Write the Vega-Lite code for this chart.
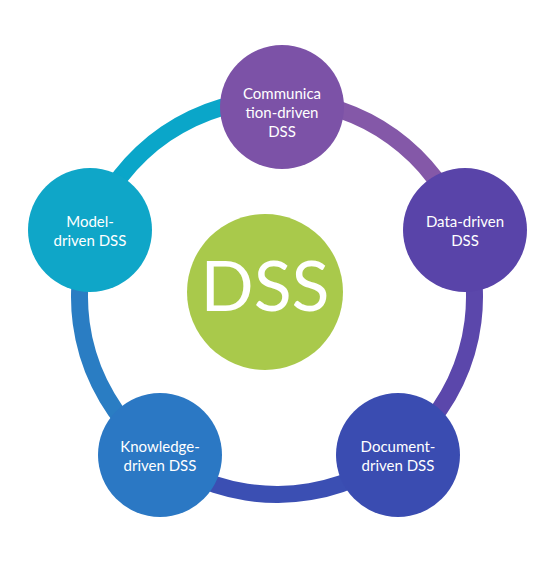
{
  "$schema": "https://vega.github.io/schema/vega-lite/v6.json",
  "width": 554,
  "height": 584,
  "padding": 0,
  "autosize": "none",
  "background": "white",
  "config": {"view": {"stroke": null}},
  "layer": [
    {
      "data": {"values": [
        {"cx": 277, "cy": 297, "a0": 0.03, "a1": 1.22, "c": "#8458a8"},
        {"cx": 277, "cy": 297, "a0": 1.22, "a1": 2.49, "c": "#5b47ab"},
        {"cx": 277, "cy": 297, "a0": 2.49, "a1": 3.78, "c": "#3b4fb3"},
        {"cx": 277, "cy": 297, "a0": 3.78, "a1": 5.06, "c": "#2a7dc3"},
        {"cx": 277, "cy": 297, "a0": 5.06, "a1": 6.31, "c": "#0aa6c9"}
      ]},
      "mark": {"type": "arc", "radius": 206, "radius2": 189},
      "encoding": {
        "x": {"field": "cx", "type": "quantitative", "scale": {"domain": [0, 554]}, "axis": null},
        "y": {"field": "cy", "type": "quantitative", "scale": {"domain": [584, 0]}, "axis": null},
        "theta": {"field": "a0", "type": "quantitative", "scale": null},
        "theta2": {"field": "a1"},
        "color": {"field": "c", "type": "nominal", "scale": null}
      }
    },
    {
      "data": {"values": [
        {"cx": 265, "cy": 292, "r": 156, "c": "#a9c94b"},
        {"cx": 282, "cy": 107, "r": 124, "c": "#7c52a7"},
        {"cx": 465, "cy": 230, "r": 124, "c": "#5944a9"},
        {"cx": 398, "cy": 455, "r": 124, "c": "#3a4cb1"},
        {"cx": 160, "cy": 455, "r": 124, "c": "#2b78c4"},
        {"cx": 90, "cy": 230, "r": 124, "c": "#0fa6c8"}
      ]},
      "mark": {"type": "point", "shape": "circle", "filled": true, "opacity": 1},
      "encoding": {
        "x": {"field": "cx", "type": "quantitative", "scale": {"domain": [0, 554]}, "axis": null},
        "y": {"field": "cy", "type": "quantitative", "scale": {"domain": [584, 0]}, "axis": null},
        "size": {"field": "r", "type": "quantitative", "scale": {"type": "pow", "exponent": 2, "domain": [0, 1], "range": [0, 1], "clamp": false}, "legend": null},
        "color": {"field": "c", "type": "nominal", "scale": null}
      }
    },
    {
      "data": {"values": [
        {"cx": 282, "cy": 94, "t": "Communica\ntion-driven\nDSS"},
        {"cx": 465, "cy": 222, "t": "Data-driven\nDSS"},
        {"cx": 398, "cy": 447, "t": "Document-\ndriven  DSS"},
        {"cx": 160, "cy": 447, "t": "Knowledge-\ndriven DSS"},
        {"cx": 90, "cy": 222, "t": "Model-\ndriven  DSS"}
      ]},
      "mark": {"type": "text", "font": "Lato", "fontSize": 15, "color": "white", "lineBreak": "\n", "lineHeight": 19, "baseline": "middle"},
      "encoding": {
        "x": {"field": "cx", "type": "quantitative", "scale": {"domain": [0, 554]}, "axis": null},
        "y": {"field": "cy", "type": "quantitative", "scale": {"domain": [584, 0]}, "axis": null},
        "text": {"field": "t"}
      }
    },
    {
      "data": {"values": [{"cx": 265, "cy": 290, "t": "DSS"}]},
      "mark": {"type": "text", "font": "Lato", "fontSize": 70, "color": "white", "baseline": "middle"},
      "encoding": {
        "x": {"field": "cx", "type": "quantitative", "scale": {"domain": [0, 554]}, "axis": null},
        "y": {"field": "cy", "type": "quantitative", "scale": {"domain": [584, 0]}, "axis": null},
        "text": {"field": "t"}
      }
    }
  ]
}
